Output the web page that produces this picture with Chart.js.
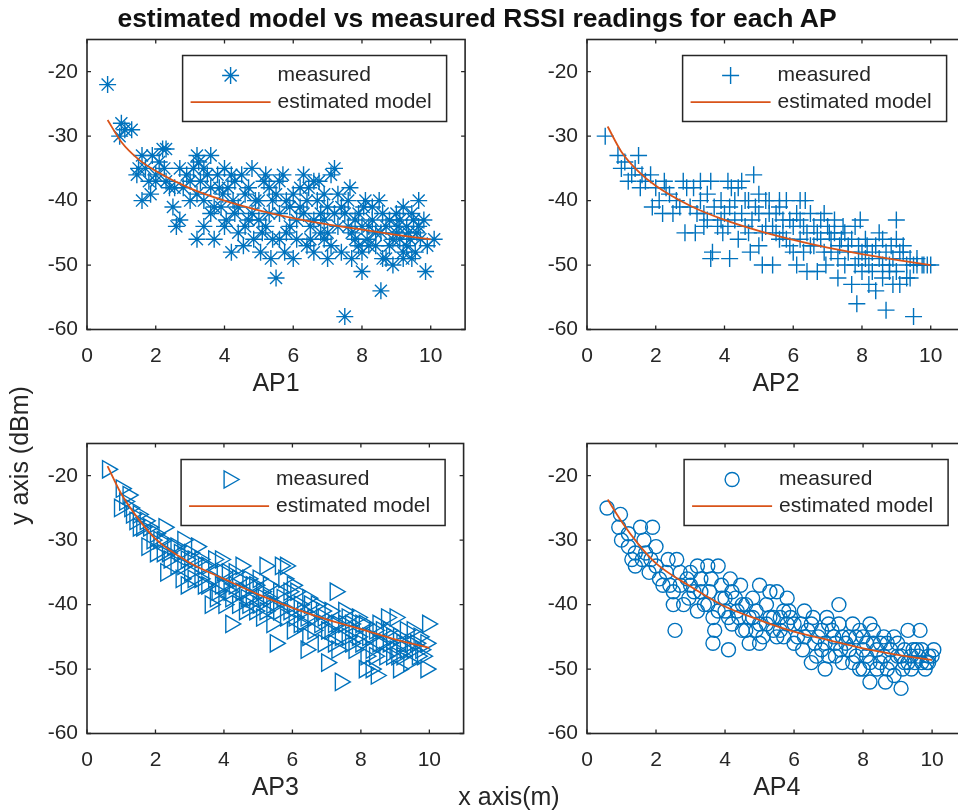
<!DOCTYPE html>
<html>
<head>
<meta charset="utf-8">
<script src="https://cdn.jsdelivr.net/npm/chart.js@4/dist/chart.umd.min.js"></script>
<style>
html, body { margin:0; padding:0; width:958px; height:811px; overflow:hidden; background:#fff; }
.plot { position:absolute; }
.txt { position:absolute; white-space:nowrap; line-height:1; font-family:"Liberation Sans", Arial, sans-serif; color:#262626; z-index:2; }
</style>
</head>
<body>
<canvas id="ap1" class="plot" width="475" height="400" style="left:0px;top:0px"></canvas>
<canvas id="ap2" class="plot" width="475" height="400" style="left:500px;top:0px"></canvas>
<canvas id="ap3" class="plot" width="475" height="400" style="left:0px;top:404px"></canvas>
<canvas id="ap4" class="plot" width="475" height="400" style="left:500px;top:404px"></canvas>
<div class="txt" style="left:477px; top:5px; transform:translateX(-50%); font-weight:bold; font-size:26.5px; color:#111;">estimated model vs measured RSSI readings for each AP</div>
<div class="txt" style="left:509px; top:784px; transform:translateX(-50%); font-size:25px;">x axis(m)</div>
<div class="txt" style="left:7px; top:525px; transform-origin:0 0; transform:rotate(-90deg); font-size:25px;">y axis (dBm)</div>
<script>
// tick labels
const xTicks = [0, 2, 4, 6, 8, 10];
const yTicks = [-60, -50, -40, -30, -20];

// model curve (same distances for every AP)
const modelX = [0.6, 1, 1.5, 2, 3, 4, 5, 6, 7, 8, 9, 10];
const ap1Model = [-27.5, -30.9, -33.6, -35.4, -38.1, -40.0, -41.5, -42.7, -43.7, -44.5, -45.3, -46.0];
const ap2Model = [-28.5, -32.4, -35.5, -37.7, -40.8, -43.0, -44.7, -46.1, -47.3, -48.3, -49.2, -50.0];
const ap3Model = [-18.5, -22.8, -26.7, -29.8, -33.5, -36.0, -38.4, -40.5, -42.3, -43.8, -45.4, -46.7];
const ap4Model = [-23.7, -27.1, -30.7, -33.6, -37.2, -40.3, -42.4, -44.2, -45.5, -46.8, -47.8, -48.6];

// measured readings
const ap1X = [0.6,1.0,1.3,0.95,1.1,1.5,1.45,1.6,1.9,2.2,2.3,1.6,1.8,1.85,2.0,2.25,2.3,2.55,2.5,2.7,2.6,2.8,3.2,3.25,3.1,3.4,3.5,3.0,3.2,3.2,3.7,3.6,3.85,3.95,3.4,3.7,4.2,4.5,4.25,4.05,4.2,4.55,4.3,4.6,4.8,4.85,5.05,5.15,5.0,5.2,5.4,5.5,5.35,5.7,5.75,5.6,5.9,6.0,6.1,5.8,6.3,6.45,6.4,6.6,6.2,6.5,6.75,6.9,7.0,6.8,7.0,7.2,7.2,7.4,7.5,7.65,7.6,7.4,7.8,8.0,8.05,8.15,8.55,8.5,8.55,8.3,8.7,8.9,9.05,9.2,9.35,9.45,9.65,9.55,9.65,9.85,10.1,9.45,8.8,9.0,8.2,7.9,8.4,9.3,9.1,9.7,4.0,4.4,4.7,3.8,5.3,6.9,5.6,3.0,2.4,2.0,
  3.3,3.6,3.9,4.1,4.3,4.4,4.6,4.7,4.9,5.0,5.1,5.3,5.4,5.5,5.6,5.8,5.9,6.0,6.1,6.2,6.3,6.4,6.5,6.6,6.7,6.8,6.9,7.0,7.1,7.3,7.3,7.5,7.6,7.7,7.8,7.9,8.0,8.1,8.2,8.3,8.4,8.6,8.7,8.8,8.9,9.0,9.1,9.2,9.3,9.4,9.5,9.6,9.8,9.9,9.2,8.6,8.0,7.7,3.4,2.9,2.7,2.1,1.7,4.8,5.2,4.0,3.6,6.6,7.1];
const ap1Y = [-22,-28,-29,-30,-29,-35,-36,-33,-33,-32,-32,-40,-37,-39,-36,-35,-37,-38,-41,-43,-44,-38,-33,-34,-35,-35,-36,-37,-39,-46,-46,-42,-38,-39,-40,-41,-36,-36,-40,-43,-48,-47,-42,-39,-42,-46,-48,-37,-40,-44,-40,-52,-49,-36,-48,-42,-44,-49,-43,-40,-36,-38,-47,-48,-41,-44,-37,-39,-49,-42,-45,-35,-42,-48,-58,-38,-44,-41,-46,-51,-41,-46,-54,-40,-45,-43,-49,-50,-44,-49,-45,-42,-40,-48,-44,-51,-46,-49,-47,-42,-44,-42,-47,-47,-46,-46,-44,-45,-43,-36,-38,-46,-46,-40,-38,-37,
  -37,-38,-41,-38,-37,-41,-44,-38,-40,-43,-45,-42,-46,-39,-37,-45,-41,-39,-46,-38,-42,-40,-46,-43,-40,-45,-43,-41,-47,-39,-44,-42,-40,-45,-43,-47,-44,-40,-47,-41,-45,-42,-44,-43,-46,-45,-43,-41,-44,-46,-43,-45,-43,-47,-48,-49,-48,-49,-44,-36,-35,-34,-35,-35,-36,-35,-33,-37,-36];

const ap2X = [0.53,0.9,1.0,1.5,1.4,1.2,1.55,1.85,2.0,1.9,2.2,2.25,2.4,2.6,2.8,2.9,2.85,3.15,3.1,3.3,3.4,3.6,3.6,3.65,3.9,3.95,4.15,4.15,4.5,4.85,4.75,5.0,4.9,5.1,5.4,5.3,5.6,5.8,5.8,6.1,6.1,6.35,6.4,6.6,6.7,6.9,6.95,7.05,7.3,7.35,7.45,7.7,7.85,7.95,7.9,8.15,8.2,8.4,8.5,8.7,8.6,8.85,8.9,9.0,9.0,9.1,9.3,9.5,9.5,9.75,10.0,4.0,4.3,4.6,5.2,5.5,5.9,6.2,6.5,6.8,7.1,7.6,7.8,8.0,8.3,8.8,9.2,9.6,3.0,3.5,4.4,5.0,2.5,3.8,4.6,5.7,6.3,7.2,8.1,9.4,1.3,1.7,2.1,4.2,5.3,6.0,7.5,8.6,
  3.2,3.4,3.7,3.9,4.1,4.3,4.5,4.7,4.8,5.0,5.1,5.2,5.4,5.5,5.6,5.7,5.9,6.0,6.2,6.3,6.4,6.5,6.6,6.7,6.8,6.9,7.0,7.1,7.2,7.3,7.4,7.5,7.6,7.7,7.8,7.9,8.0,8.1,8.2,8.3,8.4,8.5,8.6,8.7,8.8,8.9,9.0,9.1,9.2,9.3,9.4,9.6,9.8,9.9,2.3,2.7,3.3,3.5,4.1,4.4,4.7,5.6,6.2,1.1,1.6];
const ap2Y = [-30,-33,-35,-33,-35,-37,-38,-36,-38,-41,-42,-37,-39,-40,-37,-38,-45,-45,-38,-40,-42,-37,-49,-48,-40,-45,-49,-41,-37,-36,-48,-39,-41,-50,-50,-42,-41,-40,-46,-50,-42,-40,-51,-44,-51,-42,-50,-45,-52,-47,-44,-53,-56,-43,-49,-47,-53,-54,-45,-57,-50,-47,-53,-43,-46,-53,-50,-58,-50,-50,-50,-42,-43,-44,-44,-45,-43,-46,-47,-46,-48,-47,-50,-51,-48,-51,-48,-49,-41,-43,-46,-47,-42,-44,-40,-43,-44,-45,-49,-52,-36,-37,-40,-38,-40,-48,-50,-52,
  -42,-44,-41,-43,-44,-40,-42,-45,-43,-42,-45,-40,-44,-42,-46,-45,-47,-44,-43,-48,-45,-42,-47,-45,-43,-48,-44,-46,-43,-49,-46,-45,-48,-46,-44,-47,-48,-46,-50,-51,-47,-49,-46,-48,-50,-49,-51,-48,-47,-52,-49,-50,-50,-50,-38,-41,-37,-39,-37,-38,-40,-40,-40,-34,-36];

const ap3X = [0.6,1.0,0.95,1.25,1.4,1.6,2.25,1.75,2.0,2.3,2.35,2.7,2.9,2.75,2.9,3.1,3.3,3.7,3.75,3.95,4.15,4.2,4.3,4.5,4.5,4.65,4.8,5.0,5.2,5.15,5.5,5.5,5.65,5.8,5.75,6.0,6.05,6.2,6.45,6.45,6.85,6.9,7.0,7.25,7.3,7.4,7.7,7.9,8.0,8.15,8.4,8.45,8.75,8.8,9.0,9.05,9.3,9.45,9.65,9.95,9.9,9.75,1.2,1.5,1.8,2.1,2.5,2.6,3.0,3.2,3.4,3.5,3.9,4.0,4.4,4.7,4.9,5.1,5.3,5.6,5.9,6.1,6.3,6.6,6.7,7.1,7.5,7.6,7.8,8.1,8.3,8.6,8.9,9.2,9.5,9.7,9.1,8.5,7.2,6.0,5.4,4.6,3.6,2.8,2.2,
  1.1,1.3,1.5,1.7,1.9,2.0,2.2,2.4,2.6,2.8,3.0,3.1,3.3,3.4,3.5,3.7,3.8,3.9,4.0,4.1,4.2,4.3,4.4,4.6,4.7,4.8,4.9,5.0,5.1,5.2,5.3,5.4,5.6,5.7,5.8,5.9,6.0,6.2,6.3,6.4,6.5,6.6,6.8,6.9,7.0,7.1,7.2,7.4,7.5,7.6,7.7,7.8,7.9,8.0,8.2,8.3,8.4,8.5,8.6,8.7,8.8,8.9,9.0,9.1,9.2,9.3,9.4,9.5,9.6,9.8,9.9,8.1,8.3,7.3,6.4];
const ap3Y = [-19,-22,-25,-25,-27,-28,-28,-31,-32,-35,-32,-32,-33,-36,-37,-33,-36,-33,-39,-35,-38,-43,-35,-34,-38,-39,-37,-36,-34,-39,-40,-46,-34,-34,-36,-37,-42,-40,-39,-45,-41,-46,-49,-38,-43,-52,-43,-42,-46,-48,-48,-51,-42,-46,-42,-48,-44,-46,-48,-43,-50,-47,-23,-26,-28,-30,-31,-34,-35,-31,-34,-37,-37,-40,-40,-36,-41,-42,-37,-38,-41,-38,-43,-42,-40,-44,-41,-45,-47,-43,-45,-44,-48,-46,-44,-45,-50,-46,-46,-44,-43,-41,-40,-30,-30,
  -24,-26,-28,-27,-30,-29,-32,-33,-31,-34,-32,-36,-33,-37,-34,-36,-38,-33,-37,-35,-39,-37,-36,-38,-40,-39,-37,-40,-38,-41,-39,-40,-41,-39,-42,-38,-40,-43,-41,-42,-40,-44,-43,-42,-44,-41,-43,-45,-43,-42,-46,-44,-45,-43,-45,-47,-44,-43,-46,-48,-44,-45,-47,-45,-48,-47,-49,-47,-46,-48,-46,-50,-50,-47,-47];

const ap4X = [0.58,0.97,0.92,1.2,1.4,1.4,1.55,1.65,1.9,2.0,1.8,1.85,2.2,2.35,2.6,2.5,2.55,2.7,2.95,3.2,3.3,3.5,3.8,3.55,3.65,3.65,4.1,4.15,4.45,4.35,4.6,4.7,5.0,5.0,5.3,5.5,5.4,5.8,5.85,6.0,6.25,6.3,6.55,6.65,6.9,6.95,7.15,7.3,7.35,7.4,7.7,7.8,7.9,8.2,8.2,8.3,8.6,8.65,8.8,9.1,9.15,9.3,9.45,9.65,9.55,9.85,10.05,2.1,2.4,2.9,3.0,3.1,3.4,3.9,4.0,4.2,4.5,4.8,4.9,5.2,5.6,5.7,6.1,6.4,6.7,6.8,7.0,7.2,7.5,7.6,8.0,8.1,8.4,8.5,8.7,8.9,9.0,9.2,9.4,9.7,9.9,8.0,6.5,5.5,4.3,3.7,1.2,1.6,
  2.3,2.5,2.7,2.8,3.0,3.2,3.3,3.5,3.6,3.8,3.9,4.0,4.1,4.2,4.4,4.5,4.6,4.7,4.8,4.9,5.0,5.1,5.2,5.3,5.4,5.6,5.7,5.8,5.9,6.0,6.2,6.3,6.5,6.6,6.8,6.9,7.0,7.1,7.2,7.3,7.4,7.6,7.7,7.8,7.9,8.0,8.1,8.2,8.3,8.4,8.5,8.6,8.7,8.8,8.9,9.0,9.1,9.2,9.3,9.4,9.5,9.6,9.7,9.8,9.9,10.0,1.0,1.3,1.7,2.0];
const ap4Y = [-25,-26,-28,-31,-32,-34,-28,-30,-28,-31,-35,-33,-37,-33,-33,-40,-44,-37,-39,-34,-36,-34,-34,-38,-42,-46,-47,-36,-37,-41,-44,-46,-46,-37,-38,-38,-42,-39,-41,-43,-47,-41,-42,-48,-50,-42,-45,-40,-47,-49,-43,-48,-50,-52,-43,-46,-45,-52,-49,-53,-50,-44,-47,-44,-47,-49,-47,-36,-37,-36,-35,-38,-40,-39,-41,-43,-40,-42,-44,-43,-44,-41,-45,-44,-45,-47,-43,-48,-46,-45,-45,-48,-47,-49,-46,-45,-48,-49,-50,-49,-48,-50,-49,-45,-39,-44,-29,-33,
  -35,-38,-35,-40,-37,-41,-38,-40,-36,-41,-37,-39,-42,-38,-42,-44,-40,-42,-39,-41,-43,-45,-40,-42,-44,-42,-45,-43,-42,-46,-43,-45,-43,-46,-44,-46,-48,-44,-46,-43,-45,-47,-49,-45,-44,-47,-46,-49,-44,-50,-46,-48,-50,-47,-51,-46,-48,-47,-49,-48,-49,-48,-47,-50,-49,-48,-30,-33,-32,-34];

const BLUE = '#0072BD';
const ORANGE = '#D95319';
const AXIS = '#262626';
const FONT = '"Liberation Sans", Arial, sans-serif';

// box round the axes, inward ticks on all sides and a MATLAB style legend
const matlabAxes = {
  id: 'matlabAxes',
  afterDraw(chart) {
    const {ctx, chartArea: a, scales: {x, y}} = chart;
    ctx.save();
    ctx.strokeStyle = AXIS;
    ctx.lineWidth = 1.3;
    ctx.beginPath();
    x.ticks.forEach(t => {
      const px = x.getPixelForValue(t.value);
      ctx.moveTo(px, a.bottom); ctx.lineTo(px, a.bottom - 4);
      ctx.moveTo(px, a.top); ctx.lineTo(px, a.top + 4);
    });
    y.ticks.forEach(t => {
      const py = y.getPixelForValue(t.value);
      ctx.moveTo(a.left, py); ctx.lineTo(a.left + 4, py);
      ctx.moveTo(a.right, py); ctx.lineTo(a.right - 4, py);
    });
    ctx.stroke();
    ctx.lineWidth = 1.6;
    ctx.strokeRect(a.left, a.top, a.right - a.left, a.bottom - a.top);

    // legend
    const meas = chart.data.datasets[0];
    const model = chart.data.datasets[1];
    const lw = 264, lh = 66;
    const lx = a.right - 18.5 - lw;
    const ly = a.top + 16;
    ctx.fillStyle = '#fff';
    ctx.fillRect(lx, ly, lw, lh);
    ctx.strokeStyle = AXIS;
    ctx.lineWidth = 1.5;
    ctx.strokeRect(lx, ly, lw, lh);

    ctx.strokeStyle = BLUE;
    ctx.fillStyle = 'rgba(0,0,0,0)';
    ctx.lineWidth = meas.borderWidth;
    Chart.helpers.drawPoint(ctx, {
      pointStyle: meas.pointStyle, radius: meas.pointRadius,
      rotation: meas.pointRotation || 0, borderWidth: meas.borderWidth
    }, lx + 48, ly + 20);

    ctx.strokeStyle = ORANGE;
    ctx.lineWidth = model.borderWidth;
    ctx.beginPath();
    ctx.moveTo(lx + 8, ly + 46.7);
    ctx.lineTo(lx + 88, ly + 46.7);
    ctx.stroke();

    ctx.fillStyle = AXIS;
    ctx.font = '21px ' + FONT;
    ctx.textBaseline = 'middle';
    ctx.textAlign = 'left';
    ctx.fillText(meas.label, lx + 95, ly + 20);
    ctx.fillText(model.label, lx + 95, ly + 47);
    ctx.restore();
  }
};

function makeChart(id, title, xs, ys, modelY, marker) {
  const points = xs.map((v, i) => ({x: v, y: ys[i]}));
  const curve = modelX.map((v, i) => ({x: v, y: modelY[i]}));
  return new Chart(document.getElementById(id), {
    type: 'scatter',
    data: {
      datasets: [{
        label: 'measured',
        data: points,
        borderColor: BLUE,
        backgroundColor: 'rgba(0,0,0,0)',
        borderWidth: 1.4,
        pointStyle: marker.style,
        pointRadius: marker.radius,
        pointRotation: marker.rotation || 0,
        order: 1
      }, {
        label: 'estimated model',
        data: curve,
        showLine: true,
        borderColor: ORANGE,
        borderWidth: 1.8,
        pointRadius: 0,
        cubicInterpolationMode: 'monotone',
        order: 0
      }]
    },
    options: {
      responsive: false,
      devicePixelRatio: 1,
      animation: false,
      events: [],
      layout: {padding: {top: 39.5, right: 8, left: 0, bottom: 0}},
      plugins: {legend: {display: false}, tooltip: {enabled: false}},
      scales: {
        x: {
          type: 'linear', min: 0, max: 11,
          afterBuildTicks: s => { s.ticks = xTicks.map(v => ({value: v})); },
          afterFit: s => { s.height = 70.5; },
          grid: {display: false, drawTicks: false},
          border: {display: false},
          ticks: {color: AXIS, padding: 14, font: {family: FONT, size: 21}},
          title: {display: true, text: title, color: AXIS, padding: {top: 0, bottom: 1}, font: {family: FONT, size: 25}}
        },
        y: {
          type: 'linear', min: -60, max: -15,
          afterBuildTicks: s => { s.ticks = yTicks.map(v => ({value: v})); },
          afterFit: s => { s.width = 87; },
          grid: {display: false, drawTicks: false},
          border: {display: false},
          ticks: {color: AXIS, padding: 9, font: {family: FONT, size: 21}}
        }
      }
    },
    plugins: [matlabAxes]
  });
}

makeChart('ap1', 'AP1', ap1X, ap1Y, ap1Model, {style: 'star', radius: 8.5});
makeChart('ap2', 'AP2', ap2X, ap2Y, ap2Model, {style: 'cross', radius: 8.5});
makeChart('ap3', 'AP3', ap3X, ap3Y, ap3Model, {style: 'triangle', radius: 10, rotation: 90});
makeChart('ap4', 'AP4', ap4X, ap4Y, ap4Model, {style: 'circle', radius: 7});
</script>
</body>
</html>
